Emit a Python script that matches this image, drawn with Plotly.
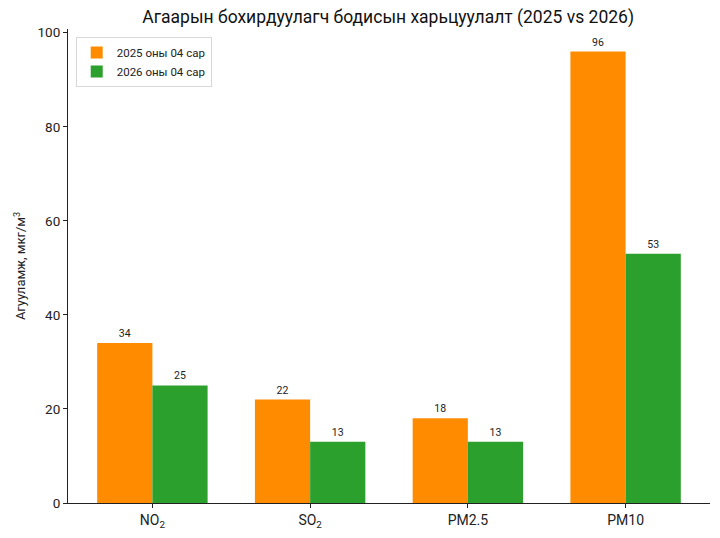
import plotly.graph_objects as go

categories = ["NO<sub>2</sub>", "SO<sub>2</sub>", "PM2.5", "PM10"]
values_2025 = [34, 22, 18, 96]
values_2026 = [25, 13, 13, 53]
label_2025 = "2025 оны 04 сар"
label_2026 = "2026 оны 04 сар"

FONT = "Roboto, 'Open Sans', sans-serif"

fig = go.Figure()
fig.add_trace(go.Bar(
    x=categories, y=values_2025, name=label_2025,
    marker=dict(color="#ff8c00", line=dict(width=0)),
    text=[str(v) for v in values_2025], textposition="outside",
    textfont=dict(size=10.5, color="#222"), cliponaxis=False,
))
fig.add_trace(go.Bar(
    x=categories, y=values_2026, name=label_2026,
    marker=dict(color="#2ca02c", line=dict(width=0)),
    text=[str(v) for v in values_2026], textposition="outside",
    textfont=dict(size=10.5, color="#222"), cliponaxis=False,
))

fig.update_layout(
    width=720, height=538,
    paper_bgcolor="white", plot_bgcolor="white",
    font=dict(family=FONT, size=13, color="#222"),
    barmode="group", bargap=0.3, bargroupgap=0,
    margin=dict(l=58, r=18, t=21, b=43),
    title=dict(text="Агаарын бохирдуулагч бодисын харьцуулалт (2025 vs 2026)",
               x=0.528, xanchor="center", y=0.983, yanchor="middle",
               font=dict(size=17.5, color="#111")),
    legend=dict(x=0.012, y=0.983, xanchor="left", yanchor="top",
                bgcolor="rgba(255,255,255,0.8)", bordercolor="#d8d8d8", borderwidth=1,
                font=dict(size=11.5), traceorder="normal"),
    uniformtext=dict(minsize=8, mode="show"),
)
fig.update_xaxes(
    showline=True, linecolor="#222", linewidth=1, showgrid=False,
    ticks="outside", ticklen=4, tickcolor="#222",
    range=[-0.535, 3.535], tickfont=dict(size=14),
)
fig.update_yaxes(
    showline=True, linecolor="#222", linewidth=1, showgrid=False, zeroline=False,
    ticks="outside", ticklen=4, tickcolor="#222",
    range=[0, 100.8], tickvals=[0, 20, 40, 60, 80, 100],
    title=dict(text="Агууламж, мкг/м<sup>3</sup>", font=dict(size=13), standoff=8),
    tickfont=dict(size=13.5),
)

fig.write_html("out.html")
